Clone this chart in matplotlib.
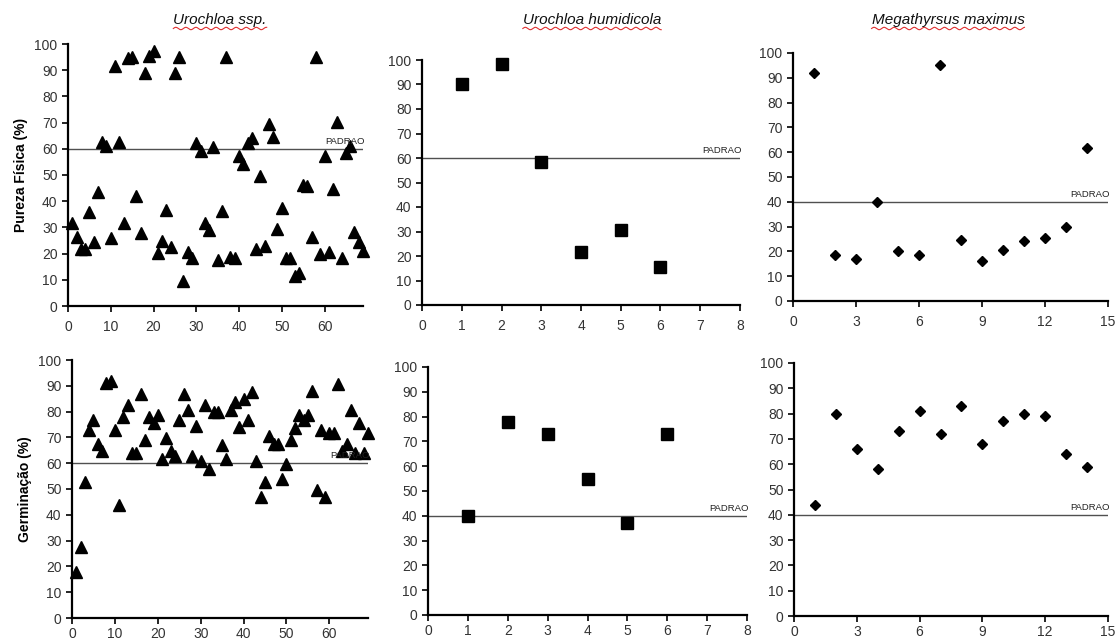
import numpy as np
import matplotlib
matplotlib.use("Agg")
import matplotlib.pyplot as plt
from matplotlib.lines import Line2D

plt.rcParams['font.family'] = ['Liberation Sans', 'DejaVu Sans']

# ---------------- data ----------------
titles = ["Urochloa ssp.", "Urochloa humidicola", "Megathyrsus maximus"]
ylabels = ["Pureza Física (%)", "Germinação (%)"]
padrao_label = "PADRAO"

uro_x = list(range(1, 70))
uro_pureza = [31.5, 26.5, 21.6, 21.6, 35.7, 24.3, 43.6, 62.5, 61.2, 26.0,
              91.7, 62.5, 31.5, 94.7, 95.2, 42.0, 27.7, 89.0, 95.5, 97.3,
              20.4, 24.9, 36.6, 22.6, 89.0, 95.2, 9.7, 20.6, 18.4, 62.1,
              59.3, 31.5, 29.0, 60.8, 17.6, 36.3, 95.2, 18.8, 18.2, 57.3,
              54.1, 62.1, 64.0, 21.6, 49.6, 22.9, 69.3, 64.4, 29.3, 37.3,
              18.4, 18.4, 11.5, 12.7, 46.2, 45.8, 26.5, 95.2, 19.7, 57.3,
              20.7, 44.7, 70.1, 18.4, 58.5, 61.2, 28.1, 24.6, 21.1]
uro_germ = [17.7, 27.6, 52.8, 72.8, 76.9, 67.6, 64.6, 91.0, 91.7, 72.8,
            43.8, 77.8, 82.7, 63.8, 63.8, 86.8, 69.0, 77.8, 75.4, 78.6,
            61.8, 69.7, 64.7, 62.6, 76.9, 86.8, 80.8, 62.6, 74.6, 60.9,
            82.7, 57.7, 80.0, 80.0, 66.9, 61.8, 80.8, 83.7, 74.0, 84.9,
            76.9, 87.6, 60.9, 46.8, 52.8, 70.5, 67.6, 67.6, 53.8, 59.6,
            69.0, 73.7, 78.5, 76.9, 78.5, 87.8, 49.7, 72.7, 46.8, 71.8,
            71.8, 90.8, 64.6, 67.3, 80.8, 63.8, 75.6, 63.8, 71.8]

hum_x = [1, 2, 3, 4, 5, 6]
hum_pureza = [90.0, 98.5, 58.5, 21.5, 30.5, 15.5]
hum_germ = [40.0, 78.0, 73.0, 55.0, 37.0, 73.0]

meg_x = list(range(1, 15))
meg_pureza = [92.0, 18.5, 17.0, 40.0, 20.0, 18.5, 95.0, 24.5, 16.0, 20.5,
              24.0, 25.5, 30.0, 61.5]
meg_germ = [44.0, 80.0, 66.0, 58.0, 73.0, 81.0, 72.0, 83.0, 68.0, 77.0,
            80.0, 79.0, 64.0, 59.0]

# standards (PADRAO) per panel: rows = pureza, germinacao
padrao = [[60, 60, 40], [60, 40, 40]]

xmax = [69, 8, 15]
xticks = [list(range(0, 70, 10)), list(range(0, 9)), list(range(0, 16, 3))]
yticks = list(range(0, 101, 10))

series_x = [uro_x, hum_x, meg_x]
series_y = [[uro_pureza, hum_pureza, meg_pureza], [uro_germ, hum_germ, meg_germ]]
markers = ['^', 's', 'D']
msizes = [8, 8, 5.5]

# ---------------- layout (pixel boxes: left, right, y100, y0) ----------------
W, H = 1115, 641
boxes = [
    [(68, 363, 44, 306), (422, 740, 60, 305), (793, 1108, 53, 301)],
    [(72, 368, 360, 618), (428, 747, 367, 615), (794, 1108, 363, 616)],
]
xpads = [6, 2.5]

fig = plt.figure(figsize=(W / 100, H / 100), dpi=100)

for r in range(2):
    for c in range(3):
        l, rr, yt, yb = boxes[r][c]
        ax = fig.add_axes([l / W, 1 - yb / H, (rr - l) / W, (yb - yt) / H])
        ax.plot(series_x[c], series_y[r][c], linestyle='none', marker=markers[c],
                ms=msizes[c], color='black', clip_on=False, zorder=3)
        ax.axhline(padrao[r][c], color='#505050', lw=1.0, zorder=2)
        ax.text(xmax[c] * 1.005, padrao[r][c] + 1.2, padrao_label, ha='right',
                va='bottom', fontsize=6.8, color='#222222', zorder=4)
        ax.set_xlim(0, xmax[c])
        ax.set_ylim(0, 100)
        ax.set_xticks(xticks[c])
        ax.set_yticks(yticks)
        for s in ['top', 'right']:
            ax.spines[s].set_visible(False)
        for s in ['left', 'bottom']:
            ax.spines[s].set_linewidth(1.6)
            ax.spines[s].set_color('black')
        ax.tick_params(direction='out', length=4, width=1.2, labelsize=10,
                       colors='black', labelcolor='#333333')
        ax.tick_params(axis='x', pad=xpads[r])
        ax.tick_params(axis='y', pad=3.5)
        if c == 0:
            ax.set_ylabel(ylabels[r], fontsize=10, fontweight='bold', labelpad=5)

# titles with red wavy underline
title_cx = [220, 592, 948]
fig.canvas.draw()
renderer = fig.canvas.get_renderer()
for c in range(3):
    t = fig.text(title_cx[c] / W, 1 - 20 / H, titles[c], ha='center', va='center',
                 fontsize=11, style='italic', color='#111111')
    bb = t.get_window_extent(renderer=renderer)
    xs = np.linspace(bb.x0, bb.x1, 200)
    ys = bb.y0 - 1.5 + 1.2 * np.sin((xs - bb.x0) / 1.6)
    fig.add_artist(Line2D(xs / W, ys / H, color='#e03030', lw=0.8,
                          transform=fig.transFigure))

fig.savefig('out.png', dpi=100)
